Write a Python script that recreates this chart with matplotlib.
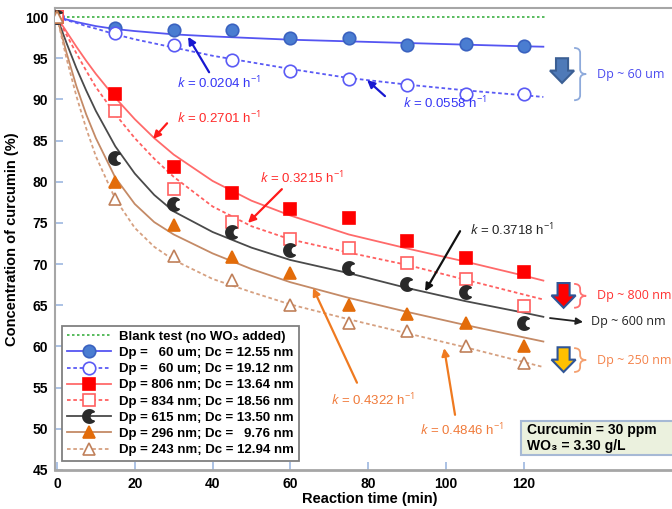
"""Curcumin degradation vs reaction time for WO3 samples of different particle size."""

import numpy as np
import matplotlib
matplotlib.use("Agg")
from matplotlib import pyplot as plt
from matplotlib.lines import Line2D
from matplotlib.path import Path
from matplotlib.patches import FancyArrow, PathPatch, Rectangle

plt.rcParams["font.family"] = ["Liberation Sans", "DejaVu Sans"]
plt.rcParams["mathtext.fontset"] = "custom"
plt.rcParams["mathtext.rm"] = "Open Sans"
plt.rcParams["mathtext.it"] = "Open Sans:italic"

# measured points
t_obs = [0, 15, 30, 45, 60, 75, 90, 105, 120]
c_60um_a = [100, 98.7, 98.4, 98.4, 97.4, 97.4, 96.6, 96.7, 96.5]
c_60um_b = [100, 98.1, 96.6, 94.8, 93.5, 92.5, 91.7, 90.6, 90.6]
c_806nm = [100, 90.6, 81.8, 78.6, 76.7, 75.6, 72.8, 70.8, 69.1]
c_834nm = [100, 88.6, 79.1, 75.1, 73.1, 71.9, 70.1, 68.2, 64.9]
c_615nm = [100, 82.9, 77.3, 73.9, 71.7, 69.5, 67.6, 66.6, 62.9]
c_296nm = [100, 80.0, 74.8, 70.9, 68.9, 65.0, 64.0, 62.8, 60.1]
c_243nm = [100, 77.9, 71.0, 68.1, 65.0, 62.9, 61.9, 60.1, 58.0]

# fitted curves
t_fit = [0, 2.5, 5, 7.5, 10, 15, 20, 25, 30, 40, 50, 60, 75, 90, 105, 120, 125]
fit_60um_a = [100, 99.7, 99.4, 99.15, 98.9, 98.55, 98.3, 98.1, 97.9, 97.65,
              97.45, 97.25, 97.05, 96.85, 96.65, 96.45, 96.4]
fit_60um_b = [100, 99.6, 99.3, 98.9, 98.6, 97.9, 97.3, 96.8, 96.3, 95.3,
              94.5, 93.7, 92.6, 91.8, 91.1, 90.5, 90.3]
fit_806nm = [100, 98.2, 96.4, 94.7, 93.1, 90.2, 87.6, 85.3, 83.3, 80.1,
             77.7, 75.9, 73.6, 71.9, 70.3, 68.6, 68.0]
fit_834nm = [100, 97.8, 95.6, 93.5, 91.5, 88.2, 85.3, 82.8, 80.6, 77.0,
             74.6, 73.0, 71.4, 69.9, 68.1, 66.3, 65.7]
fit_615nm = [100, 96.8, 93.8, 91.1, 88.6, 84.3, 81.0, 78.4, 76.4, 73.9,
             72.0, 70.5, 68.9, 67.1, 65.5, 64.1, 63.6]
fit_296nm = [100, 95.6, 91.6, 88.2, 85.3, 80.5, 77.3, 75.1, 73.6, 71.3,
             69.4, 67.8, 65.9, 64.2, 62.6, 61.1, 60.6]
fit_243nm = [100, 94.9, 90.4, 86.5, 83.1, 77.9, 74.4, 72.1, 70.5, 68.2,
             66.6, 65.1, 63.3, 61.6, 59.9, 58.1, 57.5]

t_blank = [0, 126]
c_blank = [100, 100]

labels = [
    "Blank test (no WO\u2083 added)",
    "Dp =   60 um; Dc = 12.55 nm",
    "Dp =   60 um; Dc = 19.12 nm",
    "Dp = 806 nm; Dc = 13.64 nm",
    "Dp = 834 nm; Dc = 18.56 nm",
    "Dp = 615 nm; Dc = 13.50 nm",
    "Dp = 296 nm; Dc =   9.76 nm",
    "Dp = 243 nm; Dc = 12.94 nm",
]

k_labels = ["0.0204", "0.0558", "0.2701", "0.3215", "0.3718", "0.4322", "0.4846"]


def crescent_marker():
    a_out = np.radians(np.linspace(45, 315, 40))
    outer = np.column_stack([np.cos(a_out), np.sin(a_out)])
    # inner arc passes through both cusps, bulging less to the left
    c = 0.75
    x1, y1 = outer[0]
    r = np.hypot(x1 - c, y1)
    a1 = np.degrees(np.arctan2(y1, x1 - c))
    a_in = np.radians(np.linspace(360 - a1, a1, 40))
    inner = np.column_stack([c + r * np.cos(a_in), r * np.sin(a_in)])
    verts = np.vstack([outer, inner, outer[:1]])
    return Path(verts, closed=True)


def brace(ax, x0, ytop, ybot, w, r, color):
    ytip = (ytop + ybot) / 2
    xm = x0 + w / 2
    xt = x0 + w
    verts = [
        (x0, ytop), (xm, ytop), (xm, ytop - r), (xm, ytip + r),
        (xm, ytip), (xt, ytip), (xm, ytip), (xm, ytip - r),
        (xm, ybot + r), (xm, ybot), (x0, ybot),
    ]
    codes = [Path.MOVETO, Path.CURVE3, Path.CURVE3, Path.LINETO,
             Path.CURVE3, Path.CURVE3, Path.CURVE3, Path.CURVE3,
             Path.LINETO, Path.CURVE3, Path.CURVE3]
    ax.add_patch(PathPatch(Path(verts, codes), fill=False, edgecolor=color,
                           lw=1.3, clip_on=False))
    return ytip


moon = crescent_marker()

series = [
    # fit, obs, line color, ls, marker, face, edge, ms
    (fit_60um_a, c_60um_a, "#5555f2", "-", "o", "#4a7dd1", "#3a62c0", 9),
    (fit_60um_b, c_60um_b, "#5a5af5", (0, (2, 1.5)), "o", "white", "#5a5af5", 9),
    (fit_806nm, c_806nm, "#ff6a6a", "-", "s", "#ff0000", "#ff0000", 8.5),
    (fit_834nm, c_834nm, "#ff6060", (0, (2, 1.5)), "s", "white", "#ff6060", 8.5),
    (fit_615nm, c_615nm, "#4a4a4a", "-", moon, "#2a2a2a", "#2a2a2a", 9.5),
    (fit_296nm, c_296nm, "#c48a66", "-", "^", "#e36c0a", "#e36c0a", 8.5),
    (fit_243nm, c_243nm, "#d6a080", (0, (2, 1.5)), "^", "white", "#c0805a", 8.5),
]

fig = plt.figure(figsize=(6.72, 5.09), dpi=100)
ax = fig.add_axes([55 / 672, 39 / 509, 630 / 672, 462 / 509])

ax.plot(t_blank, c_blank, color="#3cb043", ls=(0, (1.5, 1.5)), lw=1.2)
for fit, obs, lc, ls, mk, mf, me, ms in series:
    ax.plot(t_fit, fit, color=lc, ls=ls, lw=1.3, zorder=2)
    ax.plot(t_obs, obs, ls="none", marker=mk, mfc=mf, mec=me, ms=ms,
            mew=1.2, zorder=3)

ax.set_xlim(-0.5, 161.4)
ax.set_ylim(45, 101.1)
ax.set_xticks(range(0, 121, 20))
ax.set_yticks(range(45, 101, 5))
ax.tick_params(direction="in", length=6, width=1.2, color="#9db8e0",
               labelsize=10, pad=5)
for lab in ax.get_xticklabels() + ax.get_yticklabels():
    lab.set_fontweight("bold")
for side in ["left", "top", "right"]:
    ax.spines[side].set_color("#a6a6a6")
    ax.spines[side].set_linewidth(1.5)
ax.spines["bottom"].set_color("#a6a6a6")
ax.spines["bottom"].set_linewidth(2)
ax.set_xlabel("Reaction time (min)", fontsize=10.5, fontweight="bold", labelpad=1)
ax.set_ylabel("Concentration of curcumin (%)", fontsize=10.5,
              fontweight="bold", labelpad=4)

# legend
handles = [Line2D([], [], color="#3cb043", ls=(0, (1.5, 1.5)), lw=1.2)]
for fit, obs, lc, ls, mk, mf, me, ms in series:
    handles.append(Line2D([], [], color=lc, ls=ls, lw=1.3, marker=mk, mfc=mf,
                          mec=me, ms=ms, mew=1.2))
leg = ax.legend(handles, labels, loc="lower left", bbox_to_anchor=(0.011, 0.02),
                prop={"weight": "bold", "size": 9.5}, handlelength=3.4,
                numpoints=1, fancybox=False, framealpha=1, borderpad=0.35,
                labelspacing=0.3, handletextpad=0.6, borderaxespad=0)
leg.get_frame().set_edgecolor("#808080")
leg.get_frame().set_linewidth(1.3)

# rate constant annotations: text position, arrow tail, arrow head, colors
k_notes = [
    ((41.6, 92.0), (39.1, 93.3), (33.7, 97.6), "#3535f5", "#1818d0"),
    ((99.8, 89.6), (84.3, 90.4), (79.7, 92.35), "#3535f5", "#1818d0"),
    ((41.6, 87.8), (28.3, 87.1), (24.7, 85.2), "#ff2a2a", "#ff1a1a"),
    ((62.9, 80.5), (57.8, 79.1), (49.1, 75.0), "#ff2a2a", "#ff1a1a"),
    ((116.8, 74.1), (103.6, 74.0), (94.6, 66.7), "#222222", "#111111"),
    ((81.3, 53.5), (77.1, 55.6), (65.8, 67.1), "#f07a3a", "#ef7a20"),
    ((104.1, 49.9), (102.3, 51.7), (99.5, 59.8), "#f07a3a", "#ef7a20"),
]
for k, (txy, tail, head, tc, ac) in zip(k_labels, k_notes):
    ax.text(txy[0], txy[1], f"$k$ = {k} h$^{{-1}}$", color=tc, fontsize=9.5,
            ha="center", va="center")
    ax.annotate("", xy=head, xytext=tail,
                arrowprops=dict(arrowstyle="-|>", color=ac, lw=1.6,
                                mutation_scale=11, shrinkA=0, shrinkB=0))

# block arrows and size groups on the right
blocks = [
    (129.8, 95.0, "#4f7ab8", "#3b5f94", 89.9, 96.25, "#8eaadb",
     "Dp ~ 60 um", "#4b4bef"),
    (130.2, 67.7, "#ff0000", "#2f5597", 64.7, 67.6, "#ff7070",
     "Dp ~ 800 nm", "#ff3030"),
    (130.2, 59.9, "#ffc000", "#2f5597", 56.9, 59.8, "#f4a070",
     "Dp ~ 250 nm", "#f4824a"),
]
for xc, ytop, fc, ec, yb0, yb1, bc, txt, tc in blocks:
    ax.add_patch(FancyArrow(xc, ytop, 0, -3.0, width=3.1, head_width=6.2,
                            head_length=1.5, length_includes_head=True,
                            facecolor=fc, edgecolor=ec, lw=1.5, clip_on=False))
    ytip = brace(ax, 132.9, yb1, yb0, 3.1, 0.6, bc)
    ax.text(138.8, ytip, txt, color=tc, fontsize=9, family="Open Sans",
            va="center", ha="left", clip_on=False)

ax.annotate("", xy=(135.2, 62.97), xytext=(126.7, 63.45),
            arrowprops=dict(arrowstyle="-|>", color="#222222", lw=1.3,
                            mutation_scale=10, shrinkA=0, shrinkB=0))
ax.text(137.3, 63.0, "Dp ~ 600 nm", color="#222222", fontsize=9,
        family="Open Sans", va="center", ha="left")

# conditions box
ax.add_patch(Rectangle((119.3, 46.8), 50, 4.15, facecolor="#ebf1de",
                       edgecolor="#a6b9d5", lw=1.5, zorder=4))
ax.text(120.9, 48.9, "Curcumin = 30 ppm\nWO\u2083 = 3.30 g/L", fontsize=10,
        fontweight="bold", va="center", ha="left", linespacing=1.15, zorder=5)

fig.savefig("out.png", dpi=100)
